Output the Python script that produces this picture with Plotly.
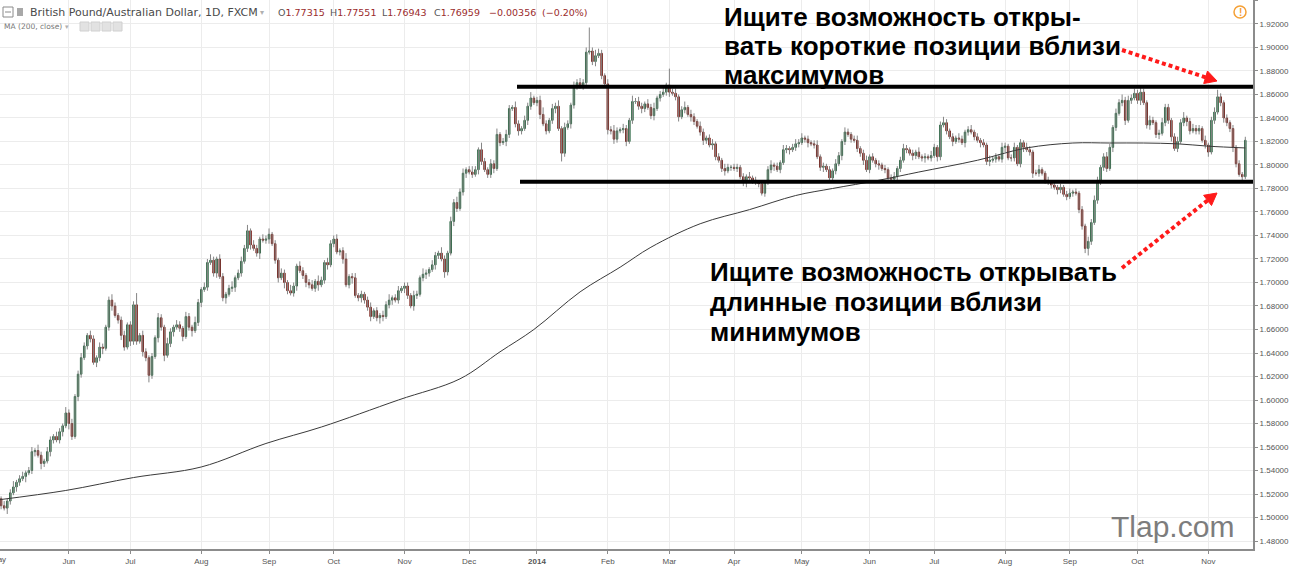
import plotly.graph_objects as go

# ---------------- data ----------------
# daily closes (trading days from 2013-05-01), GBP/AUD
CLOSE = [
    1.516,1.510,1.508,1.514,1.521,1.526,1.530,1.533,1.535,1.538,
    1.540,1.556,1.557,1.553,1.546,1.548,1.556,1.566,1.569,1.566,
    1.573,1.578,1.589,1.580,1.569,1.603,1.622,1.636,1.646,1.655,
    1.652,1.632,1.636,1.645,1.644,1.662,1.685,1.680,1.672,1.668,
    1.655,1.645,1.664,1.650,1.681,1.650,1.655,1.641,1.636,1.621,
    1.637,1.653,1.670,1.662,1.638,1.648,1.658,1.662,1.664,1.661,
    1.654,1.671,1.662,1.659,1.666,1.683,1.694,1.696,1.717,1.719,
    1.708,1.720,1.705,1.687,1.690,1.695,1.696,1.704,1.708,1.718,
    1.729,1.744,1.732,1.729,1.725,1.737,1.736,1.737,1.741,1.733,
    1.719,1.704,1.708,1.700,1.693,1.691,1.697,1.714,1.710,1.706,
    1.700,1.698,1.695,1.701,1.698,1.702,1.717,1.715,1.733,1.737,
    1.726,1.727,1.720,1.698,1.705,1.704,1.689,1.687,1.690,1.685,
    1.679,1.671,1.676,1.670,1.672,1.671,1.681,1.685,1.687,1.685,
    1.693,1.695,1.697,1.689,1.680,1.689,1.690,1.704,1.707,1.708,
    1.711,1.715,1.723,1.725,1.720,1.709,1.725,1.752,1.768,1.763,
    1.777,1.793,1.796,1.794,1.792,1.796,1.813,1.803,1.796,1.792,
    1.801,1.797,1.826,1.819,1.820,1.826,1.848,1.849,1.835,1.829,
    1.831,1.838,1.850,1.857,1.853,1.855,1.843,1.835,1.829,1.838,
    1.848,1.850,1.831,1.810,1.832,1.835,1.851,1.866,1.870,1.868,
    1.870,1.896,1.897,1.888,1.893,1.895,1.876,1.869,1.830,1.829,
    1.822,1.829,1.830,1.831,1.820,1.838,1.854,1.854,1.850,1.848,
    1.852,1.849,1.842,1.848,1.857,1.860,1.862,1.868,1.862,1.861,
    1.858,1.841,1.847,1.849,1.843,1.841,1.837,1.833,1.828,1.821,
    1.823,1.817,1.818,1.807,1.804,1.797,1.795,1.798,1.798,1.797,
    1.798,1.790,1.785,1.790,1.789,1.787,1.785,1.784,1.776,1.785,
    1.796,1.800,1.799,1.796,1.802,1.813,1.814,1.813,1.815,1.818,
    1.819,1.823,1.822,1.819,1.818,1.817,1.807,1.798,1.799,1.796,
    1.789,1.795,1.801,1.808,1.820,1.828,1.826,1.822,1.821,1.814,
    1.810,1.804,1.796,1.807,1.804,1.801,1.800,1.797,1.796,1.789,
    1.788,1.790,1.797,1.804,1.814,1.813,1.810,1.808,1.811,1.807,
    1.806,1.807,1.806,1.808,1.815,1.807,1.834,1.836,1.829,1.824,
    1.820,1.823,1.822,1.819,1.828,1.830,1.828,1.824,1.821,1.819,
    1.817,1.803,1.804,1.805,1.807,1.805,1.815,1.816,1.806,1.806,
    1.815,1.801,1.819,1.815,1.813,1.811,1.793,1.793,1.796,1.793,
    1.787,1.785,1.783,1.781,1.779,1.781,1.775,1.773,1.776,1.777,
    1.776,1.762,1.748,1.729,1.735,1.751,1.770,1.787,1.798,1.807,
    1.797,1.815,1.832,1.844,1.853,1.855,1.838,1.855,1.857,1.861,
    1.855,1.862,1.853,1.834,1.838,1.836,1.826,1.827,1.836,1.849,
    1.838,1.824,1.814,1.820,1.836,1.840,1.837,1.829,1.831,1.829,
    1.831,1.821,1.817,1.811,1.838,1.845,1.858,1.853,1.840,1.836,
    1.831,1.815,1.801,1.792,1.790,1.821,
]
FIRST_OPEN = 1.519

# upper / lower shadow lengths in units of 0.001
UP_WICK = [
    3,2,4,2,3,5,2,3,4,2, 3,4,2,5,3,2,4,3,2,4, 3,2,5,3,4,2,3,4,3,2, 4,3,2,4,3,2,3,5,3,2,
    3,4,2,3,3,10,2,4,3,2, 3,2,4,3,2,5,3,2,4,3, 2,4,3,2,5,3,2,4,3,5, 3,2,4,3,2,3,5,2,3,4,
    3,5,2,4,3,2,4,3,5,2, 3,2,4,3,2,5,3,2,4,3, 2,3,4,2,5,3,2,4,3,3, 4,2,3,5,2,3,4,2,3,2,
    3,4,2,3,2,4,3,5,2,3, 4,2,3,3,2,4,3,2,5,3, 2,4,3,2,5,3,2,4,3,5, 3,4,2,3,5,3,2,6,3,2,
    4,3,5,2,3,4,3,2,5,3, 2,4,3,5,2,3,4,6,3,2, 4,3,5,2,4,3,2,5,3,4, 3,4,20,3,5,4,3,2,4,3,
    5,3,2,4,3,2,5,3,4,3, 2,4,3,5,2,3,4,2,14,3, 4,2,3,5,2,4,3,2,4,3, 2,3,4,2,3,2,4,3,2,3,
    3,2,3,2,4,2,3,2,3,2, 3,4,2,3,2,4,3,2,3,4, 3,4,2,3,2,3,4,2,3,2, 3,2,4,3,2,4,3,2,3,4,
    2,3,4,2,3,2,3,2,3,2, 3,4,2,3,4,3,2,3,2,4, 2,3,2,4,3,2,3,5,3,2, 3,2,4,3,2,3,4,2,3,2,
    3,2,4,2,3,2,4,3,2,3, 4,2,3,2,4,3,2,3,4,2, 2,3,2,3,2,3,2,3,4,2, 3,2,3,2,4,3,4,3,2,3,
    4,3,2,4,3,5,3,4,3,4, 3,4,3,2,4,3,2,3,4,3, 3,2,3,4,3,5,2,3,4,3, 3,2,4,2,3,4,6,3,2,3,
    2,3,2,3,2,3,
]
DN_WICK = [
    4,3,2,5,3,2,4,3,2,5, 2,3,4,2,5,3,2,4,3,2, 3,4,2,5,3,2,4,3,2,3, 3,2,4,3,5,2,3,4,2,3,
    4,3,2,4,3,3,2,4,3,6, 3,2,4,3,5,2,3,4,2,3, 4,2,3,5,2,3,4,2,3,2, 3,4,2,3,5,2,3,4,2,3,
    2,3,4,2,3,5,2,3,4,2, 3,4,2,5,3,2,3,4,2,3, 4,3,2,3,5,2,3,4,2,3, 2,3,4,2,3,5,2,3,4,3,
    3,4,2,3,5,4,2,3,4,2, 3,2,4,3,2,4,3,2,3,4, 3,2,4,3,2,5,3,2,4,3, 2,3,4,2,3,2,4,3,2,3,
    3,4,2,3,2,4,3,2,3,4, 3,2,4,3,2,3,4,2,3,2, 3,4,2,7,3,2,4,3,2,3, 4,3,2,3,4,2,3,2,4,3,
    4,3,2,3,4,2,3,2,3,4, 3,2,3,4,2,3,2,3,4,2, 3,4,2,3,2,4,3,2,3,4, 3,2,4,3,2,3,4,2,3,2,
    3,2,3,4,2,3,2,3,2,3, 2,3,4,2,3,2,3,4,2,3, 3,2,3,4,2,3,2,3,4,2, 3,2,3,2,4,3,2,3,2,3,
    3,4,2,3,2,3,4,2,3,2, 3,2,4,3,2,3,2,4,3,2, 3,4,2,3,2,4,3,2,3,2, 4,2,3,2,4,3,2,3,2,4,
    2,3,4,2,3,2,3,4,2,3, 3,2,3,4,2,3,4,2,3,2, 3,2,3,2,4,3,2,3,2,3, 2,3,3,4,6,3,2,3,4,3,
    3,2,4,3,2,3,4,2,3,2, 3,4,2,3,4,2,3,4,2,3, 3,4,2,3,2,3,4,3,2,3, 3,2,3,4,2,3,2,3,4,3,
    3,4,3,2,3,2,
]

# 200-day moving average, read at points along the line (bar index, value)
MA_IDX = [0, 22, 44, 66, 87, 105, 130, 150, 163, 174, 189, 202, 212, 228, 244, 259,
          271, 286, 299, 318, 334, 349, 361, 372, 383, 393, 405]
MA_VAL = [1.515, 1.523, 1.534, 1.543, 1.563, 1.577, 1.600, 1.618, 1.641, 1.660, 1.692,
          1.713, 1.730, 1.750, 1.762, 1.774, 1.780, 1.787, 1.794, 1.804, 1.8145, 1.8187,
          1.8187, 1.8187, 1.818, 1.816, 1.8145]

MONTH_IDX = [23, 43, 66, 88, 109, 132, 153, 175, 198, 218, 239, 261, 283, 304, 327, 348, 370, 393]
MONTH_LBL = ["Jun", "Jul", "Aug", "Sep", "Oct", "Nov", "Dec", "<b>2014</b>", "Feb", "Mar",
             "Apr", "May", "Jun", "Jul", "Aug", "Sep", "Oct", "Nov"]

PRICE_TICKS = [1.48, 1.50, 1.52, 1.54, 1.56, 1.58, 1.60, 1.62, 1.64, 1.66, 1.68, 1.70,
               1.72, 1.74, 1.76, 1.78, 1.80, 1.82, 1.84, 1.86, 1.88, 1.90, 1.92, 1.94]

# header readout (label, value)
HDR_LABELS = ["O", "H", "L", "C", "", ""]
HDR_VALUES = ["1.77315", "1.77551", "1.76943", "1.76959", "−0.00356", "(−0.20%)"]

RESIST = 1.8665
SUPPORT = 1.7858

# ---------------- build OHLC ----------------
n = len(CLOSE)
X = list(range(n))
OPEN = [FIRST_OPEN] + CLOSE[:-1]
BODY_HI = [max(o, c) for o, c in zip(OPEN, CLOSE)]
BODY_LO = [min(o, c) for o, c in zip(OPEN, CLOSE)]
HIGH = [b + u * 0.001 for b, u in zip(BODY_HI, UP_WICK)]
LOW = [b - d * 0.001 for b, d in zip(BODY_LO, DN_WICK)]

wx, wy = [], []
for i in range(n):
    wx += [i, i, None]
    wy += [LOW[i], HIGH[i], None]

W, H = 1253.0, 549.0
def PX(x):
    return x / W
def PY(y):
    return 1 - y / H

fig = go.Figure()
fig.add_trace(go.Scatter(x=wx, y=wy, mode="lines", line=dict(color="#858585", width=1),
                         hoverinfo="skip"))
fig.add_trace(go.Candlestick(
    x=X, open=OPEN, high=BODY_HI, low=BODY_LO, close=CLOSE,
    increasing=dict(fillcolor="#4a9566", line=dict(color="#2b6542", width=1)),
    decreasing=dict(fillcolor="#b3392d", line=dict(color="#741d16", width=1)),
    whiskerwidth=0,
))
fig.add_trace(go.Scatter(x=MA_IDX, y=MA_VAL, mode="lines",
                         line=dict(color="#3a3a3a", width=1, shape="spline", smoothing=1.0),
                         hoverinfo="skip"))

shapes = []
# support / resistance
shapes.append(dict(type="line", xref="paper", yref="y", x0=PX(517), x1=1, y0=RESIST, y1=RESIST,
                   line=dict(color="black", width=4)))
shapes.append(dict(type="line", xref="paper", yref="y", x0=PX(520), x1=1, y0=SUPPORT, y1=SUPPORT,
                   line=dict(color="black", width=4)))

def arrow(x0, y0, tip, base_c, b1, b2):
    shapes.append(dict(type="line", xref="paper", yref="paper",
                       x0=PX(x0), y0=PY(y0), x1=PX(base_c[0]), y1=PY(base_c[1]),
                       line=dict(color="#ff1a1a", width=4, dash="4px,3px")))
    path = "M {} {} L {} {} L {} {} Z".format(PX(tip[0]), PY(tip[1]), PX(b1[0]), PY(b1[1]),
                                              PX(b2[0]), PY(b2[1]))
    shapes.append(dict(type="path", xref="paper", yref="paper", path=path,
                       fillcolor="#ff1a1a", line=dict(color="#ff1a1a", width=1)))

arrow(1122, 50, (1217, 81), (1205.6, 77.3), (1203.7, 83.5), (1207.5, 71.0))
arrow(1122, 268, (1217, 193), (1207.6, 200.4), (1211.5, 205.5), (1203.6, 195.3))

# small header icons
shapes.append(dict(type="rect", xref="paper", yref="paper", x0=PX(3), x1=PX(13), y0=PY(17), y1=PY(7),
                   line=dict(color="#8a8a8a", width=1)))
shapes.append(dict(type="line", xref="paper", yref="paper", x0=PX(5), x1=PX(11), y0=PY(12), y1=PY(12),
                   line=dict(color="#8a8a8a", width=1)))
shapes.append(dict(type="rect", xref="paper", yref="paper", x0=PX(17), x1=PX(23), y0=PY(16), y1=PY(8),
                   fillcolor="#a8a8a8", line=dict(width=0)))
for bx in [80, 91, 102, 113]:
    shapes.append(dict(type="rect", xref="paper", yref="paper", x0=PX(bx), x1=PX(bx + 9),
                       y0=PY(31), y1=PY(22), fillcolor="#e2e2e2", line=dict(color="#d0d0d0", width=1)))
# alert circle
shapes.append(dict(type="circle", xref="paper", yref="paper", x0=PX(1234), x1=PX(1246),
                   y0=PY(18), y1=PY(6), line=dict(color="#f5a035", width=1.5)))

fig.update_layout(shapes=shapes)

ann = []
def txt(x, y, s, size, color="#000", bold=False, anchor="left", family="Liberation Sans"):
    ann.append(dict(x=PX(x), y=PY(y), xref="paper", yref="paper", text=("<b>%s</b>" % s) if bold else s,
                    showarrow=False, xanchor=anchor, yanchor="middle",
                    font=dict(size=size, color=color, family=family)))

txt(28, 12, "British Pound/Australian Dollar, 1D, FXCM", 11, "#4a4a4a", family="DejaVu Sans")
txt(258, 12, "▾", 8, "#b0b0b0")
R = "#9b2c2c"
G = "#555"
HDR_X = [276, 328, 380, 432, 487, 540]
for hx, lab, val in zip(HDR_X, HDR_LABELS, HDR_VALUES):
    s = "<span style='color:%s'>%s</span><span style='color:%s'>%s</span>" % (G, lab, R, val) if lab \
        else "<span style='color:%s'>%s</span>" % (R, val)
    txt(hx, 12, s, 9.5, "#555", family="DejaVu Sans")
txt(2, 26, "MA (200, close)", 7.5, "#777", family="DejaVu Sans")
txt(63, 26, "▾", 7, "#b0b0b0")
txt(1240, 12, "!", 10, "#f5a035", bold=True, anchor="center")

txt(722, 17, "Ищите возможность откры-", 26, "#000", bold=True)
txt(722, 46, "вать короткие позиции вблизи", 26, "#000", bold=True)
txt(722, 75, "максимумов", 26, "#000", bold=True)
txt(708, 272, "Ищите возможность открывать", 26, "#000", bold=True)
txt(708, 302, "длинные позиции вблизи", 26, "#000", bold=True)
txt(708, 332, "минимумов", 26, "#000", bold=True)

txt(1172, 526, "Tlap.com", 30, "#7d7d7d", anchor="center")
txt(-2, 559, "May", 8, "#555", anchor="center")

fig.update_layout(annotations=ann)

fig.update_layout(
    width=1290, height=568,
    margin=dict(l=0, r=37, t=0, b=19),
    paper_bgcolor="white", plot_bgcolor="white",
    showlegend=False,
    xaxis=dict(range=[0.65, 407.5], tickmode="array", tickvals=MONTH_IDX, ticktext=MONTH_LBL,
               showgrid=True, gridcolor="#ececec", gridwidth=1, zeroline=False,
               showline=True, linecolor="#8c8c8c", linewidth=2, ticks="outside", ticklen=3,
               tickcolor="#8c8c8c", tickfont=dict(size=8, color="#555", family="Liberation Sans"),
               rangeslider=dict(visible=False), fixedrange=True),
    yaxis=dict(range=[1.4732, 1.9404], side="right", tickmode="array", tickvals=PRICE_TICKS,
               ticktext=["%.5f" % v for v in PRICE_TICKS],
               showgrid=True, gridcolor="#ececec", gridwidth=1, zeroline=False,
               showline=True, linecolor="#8c8c8c", linewidth=2, ticks="outside", ticklen=3,
               tickcolor="#8c8c8c", tickfont=dict(size=8, color="#555", family="Liberation Sans"),
               fixedrange=True),
)

fig.write_html("out.html")
